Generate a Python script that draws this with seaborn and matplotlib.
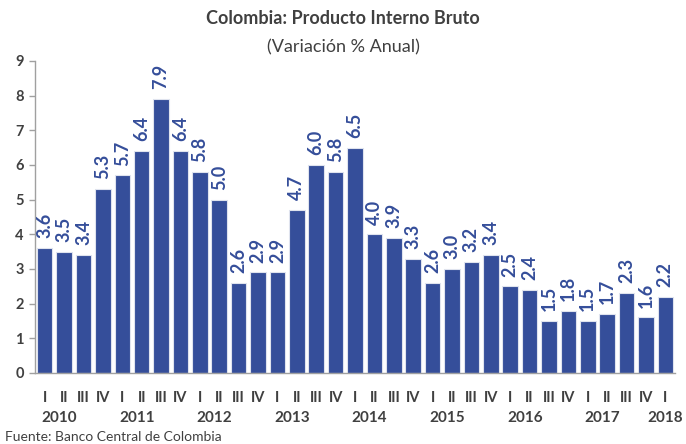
import matplotlib
matplotlib.use("Agg")
import matplotlib.pyplot as plt
import seaborn as sns
import pandas as pd
import numpy as np

quarters = ["I", "II", "III", "IV"] * 8 + ["I"]
years = ["2010", "2011", "2012", "2013", "2014", "2015", "2016", "2017", "2018"]
values = [3.6, 3.5, 3.4, 5.3,
          5.7, 6.4, 7.9, 6.4,
          5.8, 5.0, 2.6, 2.9,
          2.9, 4.7, 6.0, 5.8,
          6.5, 4.0, 3.9, 3.3,
          2.6, 3.0, 3.2, 3.4,
          2.5, 2.4, 1.5, 1.8,
          1.5, 1.7, 2.3, 1.6,
          2.2]

sns.set_theme(style="white")
plt.rcParams['font.family'] = ['Lato', 'DejaVu Sans']

bar_color = "#354E9A"
text_gray = "#404040"

df = pd.DataFrame({"pos": list(range(len(values))), "val": values})

fig = plt.figure(figsize=(6.86, 4.44), dpi=100)
ax = fig.add_axes([0.051, 0.16, 0.933, 0.703])
sns.barplot(data=df, x="pos", y="val", color=bar_color, width=0.8,
            edgecolor="#dfe3ee", linewidth=0.8, saturation=1, ax=ax)

ax.set_xlim(-0.5, len(values) - 0.5)
ax.set_ylim(0, 9)
ax.set_yticks(range(0, 10))
ax.set_yticklabels([str(i) for i in range(10)], fontsize=10.5,
                   fontweight="bold", color=text_gray)

# bar value labels
for i, v in enumerate(values):
    ax.text(i, v + 0.28, f"{v:.1f}", rotation=90, ha="center", va="bottom",
            fontsize=13, fontweight="bold", color=bar_color)

# quarter labels (minor position on bar centres), ticks on boundaries
ax.set_xticks(np.arange(-0.5, len(values)), minor=False)
ax.set_xticklabels([])
ax.set_xticks(np.arange(len(values)), minor=True)
ax.set_xticklabels(quarters, minor=True, fontsize=10.5, fontweight="bold",
                   color=text_gray)
ax.tick_params(axis="x", which="major", direction="out", length=5,
               color="#a0a0a0", width=1)
ax.tick_params(axis="x", which="minor", length=0, pad=13)
ax.tick_params(axis="y", direction="out", length=4, color="#a0a0a0",
               width=1, left=True, pad=4)

# year labels
for k, yr in enumerate(years):
    xpos = 4 * k + 0.75 if k < 8 else 32
    ax.text(xpos, -0.122, yr, transform=ax.get_xaxis_transform(),
            ha="center", va="top", fontsize=11, fontweight="bold",
            color=text_gray)

ax.set_xlabel("")
ax.set_ylabel("")
for s in ["top", "right"]:
    ax.spines[s].set_visible(False)
for s in ["left", "bottom"]:
    ax.spines[s].set_color("#a0a0a0")
    ax.spines[s].set_linewidth(1)

fig.text(0.5, 0.958, "Colombia: Producto Interno Bruto", ha="center",
         va="center", fontsize=13, fontweight="bold", color=text_gray)
fig.text(0.5, 0.893, "(Variación % Anual)", ha="center", va="center",
         fontsize=13, color=text_gray)
fig.text(0.008, 0.003, "Fuente: Banco Central de Colombia", ha="left",
         va="bottom", fontsize=10, color=text_gray)

fig.savefig("out.png", dpi=100)
